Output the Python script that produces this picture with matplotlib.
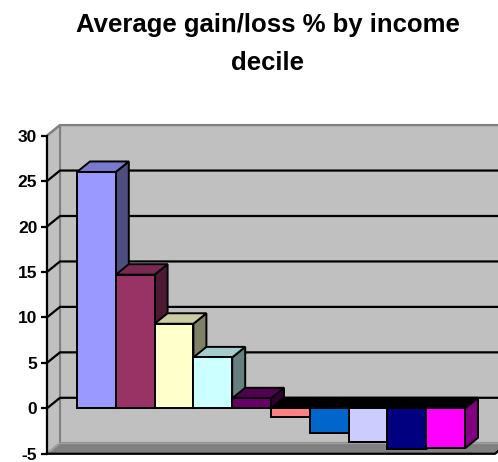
import matplotlib.pyplot as plt
from matplotlib.patches import Polygon

plt.rcParams['font.family'] = ['Liberation Sans', 'DejaVu Sans']

# data: average gain/loss % for each income decile (one series per decile)
deciles = ['1', '2', '3', '4', '5', '6', '7', '8', '9', '10']
values = [26.0, 14.7, 9.3, 5.6, 1.1, -1.0, -2.7, -3.7, -4.5, -4.4]
colors = ['#9999FF', '#993366', '#FFFFCC', '#CCFFFF', '#660066',
          '#FF8080', '#0066CC', '#CCCCFF', '#000080', '#FF00FF']
yticks = [-5, 0, 5, 10, 15, 20, 25, 30]
title = 'Average gain/loss % by income\ndecile'


def shade(c, f):
    r, g, b = [int(c[k:k + 2], 16) for k in (1, 3, 5)]
    return (r * f / 255, g * f / 255, b * f / 255)


# layout (pixels of the 498x462 picture)
W, H = 498, 462
px_bar, px_val = 38.8, 9.09       # pixels per bar width / per value unit
x0_px, zero_px = 47, 408.3        # front value axis, zero level from top
margin = 30 / px_bar
dx, dv = 13 / px_bar, 10.5 / px_val   # depth offset
vmin, vmax = yticks[0], yticks[-1]
L = 2 * margin + len(values)

fig = plt.figure(figsize=(W / 100, H / 100), dpi=100)
ax = fig.add_axes([0, 0, 1, 1])
xlo, xhi = -x0_px / px_bar, (W - x0_px) / px_bar
ylo, yhi = -(H - zero_px) / px_val, zero_px / px_val
ax.set_xlim(xlo, xhi)
ax.set_ylim(ylo, yhi)
ax.patch.set_alpha(0)

wall = '#C0C0C0'
edge = '#808080'
# back wall
ax.add_patch(Polygon([(dx, vmin + dv), (dx, vmax + dv), (xhi + 1, vmax + dv), (xhi + 1, vmin + dv)],
                     closed=True, fc=wall, ec=edge, lw=1.5, zorder=1))
# side wall
ax.add_patch(Polygon([(0, vmin), (0, vmax), (dx, vmax + dv), (dx, vmin + dv)],
                     closed=True, fc=wall, ec=edge, lw=1.5, zorder=1))
# floor
ax.add_patch(Polygon([(0, vmin), (L, vmin), (L + dx, vmin + dv), (dx, vmin + dv)],
                     closed=True, fc='#808080', ec='#A0A0A0', lw=1.2, zorder=1.2))
ax.plot([0, L, L + dx], [vmin, vmin, vmin + dv], color='black', lw=1.6, zorder=1.3)

# gridlines
for t in yticks[1:]:
    c = 'black' if t < vmax else edge
    ax.plot([0, dx, xhi + 1], [t, t + dv, t + dv], color=c, lw=1.6, zorder=1.5,
            solid_capstyle='butt')

# bars, painted left to right
for i, (v, c) in enumerate(zip(values, colors)):
    xl = margin + i
    xr = xl + 1
    z = 3 + i * 0.1
    if v >= 0:
        side = [(xr, 0), (xr, v), (xr + dx, v + dv), (xr + dx, dv)]
        top = [(xl, v), (xr, v), (xr + dx, v + dv), (xl + dx, v + dv)]
        top_c = shade(c, 0.8)
    else:
        side = [(xr, v), (xr, 0), (xr + dx, dv), (xr + dx, v + dv)]
        top = [(xl, 0), (xr, 0), (xr + dx, dv), (xl + dx, dv)]
        top_c = 'black'
    ax.add_patch(Polygon(side, closed=True, fc=shade(c, 0.5), ec='black', lw=1.4, zorder=z))
    ax.add_patch(Polygon(top, closed=True, fc=top_c, ec='black', lw=1.4, zorder=z + 0.01))
    ax.bar(xl, v, width=1, align='edge', color=c, edgecolor='black', lw=1.4,
           zorder=z + 0.02, label=deciles[i])

# value axis
for s in ['top', 'right', 'bottom']:
    ax.spines[s].set_visible(False)
ax.spines['left'].set_position(('data', 0))
ax.spines['left'].set_bounds(vmin, vmax)
ax.spines['left'].set_linewidth(1.6)
ax.spines['left'].set_zorder(2)
ax.set_yticks(yticks)
ax.set_yticklabels([str(t) for t in yticks], fontsize=12.5, fontweight='bold')
ax.tick_params(axis='y', direction='out', length=4, width=1.6, pad=3)
ax.set_xticks([])

fig.text(267.5 / W, 1 - 13 / H, title, ha='center', va='top', fontsize=18.5,
         fontweight='bold', linespacing=1.72)

fig.savefig('out.png', dpi=100)
